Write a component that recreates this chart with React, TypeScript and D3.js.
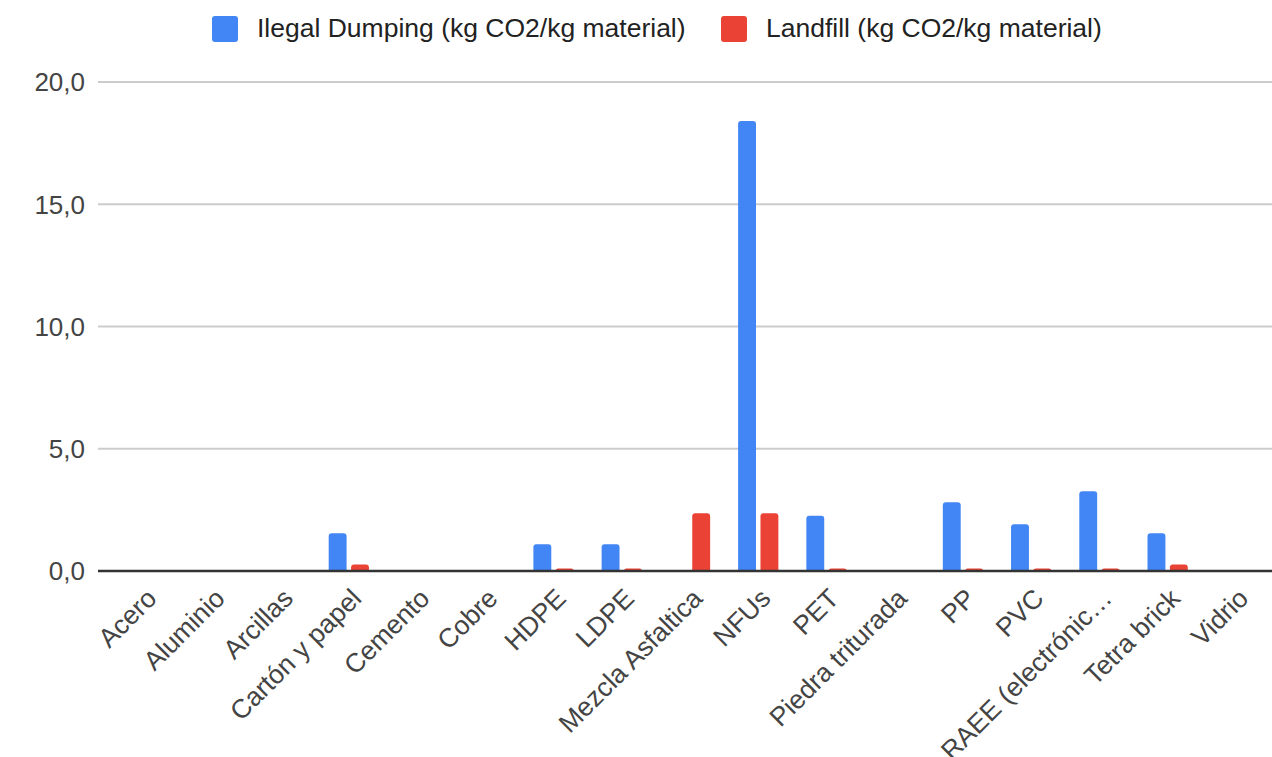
import React from "react";
import * as d3 from "d3";

const categories = [
  "Acero",
  "Aluminio",
  "Arcillas",
  "Cartón y papel",
  "Cemento",
  "Cobre",
  "HDPE",
  "LDPE",
  "Mezcla Asfaltica",
  "NFUs",
  "PET",
  "Piedra triturada",
  "PP",
  "PVC",
  "RAEE (electrónic…",
  "Tetra brick",
  "Vidrio",
];

const seriesNames = [
  "Ilegal Dumping (kg CO2/kg material)",
  "Landfill (kg CO2/kg material)",
];

const illegalDumping = [0, 0, 0, 1.54, 0, 0, 1.09, 1.09, 0, 18.4, 2.26, 0, 2.81, 1.91, 3.26, 1.54, 0];
const landfill = [0, 0, 0, 0.27, 0, 0, 0.1, 0.1, 2.36, 2.36, 0.1, 0, 0.1, 0.1, 0.1, 0.27, 0];

const yTicks = [0, 5, 10, 15, 20];

const seriesColors = ["#4285f4", "#ea4335"];

const W = 1272;
const H = 757;
const FONT = "'Liberation Sans', Arial, sans-serif";

// Bar with rounded top corners only
function barPath(x: number, y: number, w: number, h: number, r: number) {
  const rr = Math.max(0, Math.min(r, h, w / 2));
  const b = y + h;
  return `M${x},${b}V${y + rr}Q${x},${y} ${x + rr},${y}H${x + w - rr}Q${x + w},${y} ${x + w},${y + rr}V${b}Z`;
}

export default function App() {
  const plotLeft = 98;
  const plotRight = 1272;
  const y = d3.scaleLinear().domain([0, 20]).range([571, 82]);

  const x0 = d3
    .scaleBand<string>()
    .domain(categories)
    .range([110, 1270])
    .paddingInner(0.41)
    .paddingOuter(0.205);

  const x1 = d3
    .scaleBand<string>()
    .domain(seriesNames)
    .range([0, x0.bandwidth()])
    .paddingInner(0.2);

  const values = [illegalDumping, landfill];
  const fmt = (v: number) => d3.format(".1f")(v).replace(".", ",");

  const legendItems = [
    { name: seriesNames[0], color: seriesColors[0], sx: 212, tx: 257 },
    { name: seriesNames[1], color: seriesColors[1], sx: 721, tx: 766 },
  ];

  return (
    <svg
      width={W}
      height={H}
      style={{ position: "absolute", left: 0, top: 0, background: "#fff" }}
      fontFamily={FONT}
    >
      <rect width={W} height={H} fill="#fff" />

      {/* Legend */}
      {legendItems.map((d) => (
        <g key={d.name}>
          <rect x={d.sx} y={16} width={26} height={26} rx={3} fill={d.color} />
          <text x={d.tx} y={37} fontSize={26.5} fill="#222">
            {d.name}
          </text>
        </g>
      ))}

      {/* Gridlines and y labels */}
      {yTicks.map((t) => (
        <g key={t}>
          {t !== 0 && (
            <line
              x1={plotLeft}
              x2={plotRight}
              y1={y(t)}
              y2={y(t)}
              stroke="#cccccc"
              strokeWidth={2}
            />
          )}
          <text
            x={85}
            y={y(t)}
            dy="0.36em"
            textAnchor="end"
            fontSize={26}
            fill="#444"
          >
            {fmt(t)}
          </text>
        </g>
      ))}

      {/* Bars */}
      {categories.map((c, i) => (
        <g key={c} transform={`translate(${x0(c)},0)`}>
          {seriesNames.map((s, k) => {
            const v = values[k][i];
            if (v <= 0) return null;
            const top = y(v);
            return (
              <path
                key={s}
                d={barPath(x1(s)!, top, x1.bandwidth(), y(0) - top, 3)}
                fill={seriesColors[k]}
              />
            );
          })}
        </g>
      ))}

      {/* Baseline */}
      <line x1={plotLeft} x2={plotRight} y1={y(0)} y2={y(0)} stroke="#333" strokeWidth={2.5} />

      {/* Category labels */}
      {categories.map((c) => {
        const cx = x0(c)! + x0.bandwidth() / 2;
        return (
          <text
            key={c}
            transform={`translate(${cx + 14},${y(0) + 29}) rotate(-45)`}
            textAnchor="end"
            fontSize={26.5}
            fill="#444"
          >
            {c}
          </text>
        );
      })}
    </svg>
  );
}
